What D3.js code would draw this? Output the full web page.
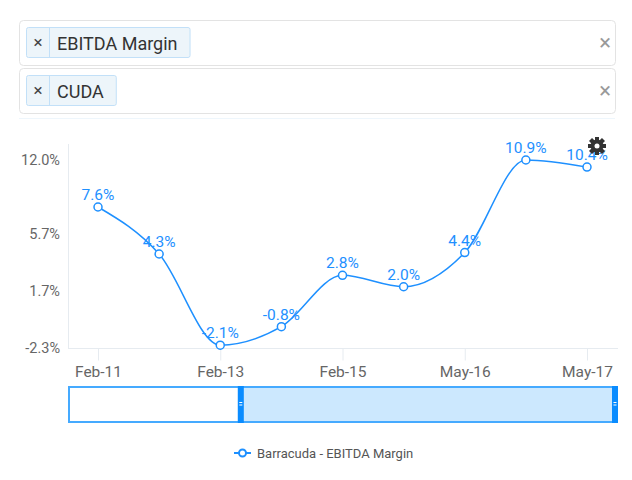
<!DOCTYPE html>
<html>
<head>
<meta charset="utf-8">
<script src="https://cdn.jsdelivr.net/npm/d3@7"></script>
<style>
  body { margin: 0; background: #fff; font-family: Roboto, "Open Sans", sans-serif; }
  svg { display: block; }
</style>
</head>
<body>
<div id="chart"></div>
<script>
// chart data
const periods = ["Feb-11", "Feb-12", "Feb-13", "Feb-14", "Feb-15", "Feb-16", "May-16", "Feb-17", "May-17"]
const margins = [7.6, 4.3, -2.1, -0.8, 2.8, 2.0, 4.4, 10.9, 10.4]
const yTickValues = [-2.3, 1.7, 5.7, 10.9]
const yTickLabels = ["-2.3%", "1.7%", "5.7%", "12.0%"]
const shownPeriods = ["Feb-11", "Feb-13", "Feb-15", "May-16", "May-17"]
const filters = ["EBITDA Margin", "CUDA"]
const seriesName = "Barracuda - EBITDA Margin"

const blue = "#1e90ff"
const width = 632, height = 480

const svg = d3.select("#chart").append("svg")
    .attr("width", width)
    .attr("height", height)

drawFilters()
drawChart()
drawNavigator()
drawLegend()

function drawFilters() {
    filters.forEach((name, i) => {
        const top = 20 + i * 48
        const g = svg.append("g").attr("transform", "translate(0," + top + ")")
        g.append("rect")
            .attr("x", 19.5).attr("y", 0.5)
            .attr("width", 596).attr("height", 45)
            .attr("rx", 4)
            .attr("fill", "#fff")
            .attr("stroke", "#e3e3e3")
        const label = g.append("text")
            .attr("x", 57).attr("y", 30)
            .attr("font-size", 18)
            .attr("fill", "#333")
            .text(name)
        const tw = label.node().getComputedTextLength()
        g.insert("rect", "text")
            .attr("x", 26.5).attr("y", 7.5)
            .attr("width", tw + 43).attr("height", 30)
            .attr("rx", 2)
            .attr("fill", "#edf5fa")
            .attr("stroke", "#c2e0f8")
        g.append("line")
            .attr("x1", 49.5).attr("x2", 49.5)
            .attr("y1", 8).attr("y2", 37)
            .attr("stroke", "#c2e0f8")
        g.append("text")
            .attr("x", 38).attr("y", 28)
            .attr("text-anchor", "middle")
            .attr("font-size", 17)
            .attr("fill", "#444")
            .text("×")
        g.append("text")
            .attr("x", 605).attr("y", 30)
            .attr("text-anchor", "middle")
            .attr("font-size", 22)
            .attr("fill", "#999")
            .text("×")
    })
    svg.append("line")
        .attr("x1", 19).attr("x2", 615)
        .attr("y1", 118.5).attr("y2", 118.5)
        .attr("stroke", "#eef6fc")
}

function drawChart() {
    const x = d3.scalePoint()
        .domain(periods)
        .range([98, 587])
    const y = d3.scaleLinear()
        .domain([-2.3, 10.9])
        .range([348, 160])

    // axis lines
    svg.append("line")
        .attr("x1", 68.5).attr("x2", 68.5)
        .attr("y1", 144).attr("y2", 348)
        .attr("stroke", "#e6ebf0")

    const xAxis = d3.axisBottom(x)
        .tickValues(shownPeriods)
        .tickSize(12)
        .tickPadding(5)
    const gx = svg.append("g")
        .attr("transform", "translate(0,348.5)")
        .call(xAxis)
    gx.select(".domain").remove()
    gx.append("line")
        .attr("x1", 68).attr("x2", 618)
        .attr("stroke", "#e6ebf0")
    gx.selectAll(".tick line").attr("stroke", "#e6ebf0")
    gx.selectAll(".tick text")
        .attr("font-family", "Roboto, sans-serif")
        .attr("font-size", 15.5)
        .attr("fill", "#666")

    const yAxis = d3.axisLeft(y)
        .tickValues(yTickValues)
        .tickSize(0)
        .tickPadding(8)
        .tickFormat((d, i) => yTickLabels[i])
    const gy = svg.append("g")
        .attr("transform", "translate(68,0)")
        .call(yAxis)
    gy.select(".domain").remove()
    gy.selectAll(".tick text")
        .attr("font-family", "Roboto, sans-serif")
        .attr("font-size", 14.5)
        .attr("fill", "#666")

    const data = periods.map((p, i) => ({period: p, value: margins[i]}))

    const line = d3.line()
        .x(d => x(d.period))
        .y(d => y(d.value))
        .curve(d3.curveMonotoneX)

    svg.append("path")
        .datum(data)
        .attr("d", line)
        .attr("fill", "none")
        .attr("stroke", blue)
        .attr("stroke-width", 1.5)

    svg.append("g")
        .selectAll("circle")
        .data(data)
        .enter()
        .append("circle")
        .attr("cx", d => x(d.period))
        .attr("cy", d => y(d.value))
        .attr("r", 4)
        .attr("fill", "#fff")
        .attr("stroke", blue)
        .attr("stroke-width", 1.5)

    svg.append("g")
        .selectAll("text")
        .data(data)
        .enter()
        .append("text")
        .attr("x", d => x(d.period))
        .attr("y", d => y(d.value) - 7)
        .attr("text-anchor", "middle")
        .attr("font-size", 15.5)
        .attr("fill", blue)
        .text(d => d.value.toFixed(1) + "%")

    drawGear(597, 146)
}

function drawGear(cx, cy) {
    const g = svg.append("g").attr("transform", "translate(" + cx + "," + cy + ")")
    for (let i = 0; i < 8; i++) {
        g.append("rect")
            .attr("x", -2).attr("y", -9)
            .attr("width", 4).attr("height", 18)
            .attr("fill", "#333")
            .attr("transform", "rotate(" + (i * 45) + ")")
    }
    g.append("circle").attr("r", 6.5).attr("fill", "#333")
    g.append("circle").attr("r", 2.5).attr("fill", "#fff")
}

function drawNavigator() {
    const nx = d3.scaleLinear()
        .domain([0, periods.length - 1])
        .range([68, 618])
    const selStart = nx(2.47), selEnd = nx(8)
    const g = svg.append("g")
    g.append("rect")
        .attr("x", 69).attr("y", 387)
        .attr("width", 548).attr("height", 35)
        .attr("fill", "#fff")
        .attr("stroke", "#45aaff")
        .attr("stroke-width", 2)
    g.append("rect")
        .attr("x", selStart).attr("y", 388)
        .attr("width", selEnd - selStart).attr("height", 33)
        .attr("fill", "#cce8fe")
    ;[selStart, selEnd - 6].forEach(hx => {
        g.append("rect")
            .attr("x", hx).attr("y", 386)
            .attr("width", 6).attr("height", 37)
            .attr("fill", "#0a8cff")
        g.append("rect")
            .attr("x", hx + 1.5).attr("y", 402)
            .attr("width", 3).attr("height", 1)
            .attr("fill", "#fff")
        g.append("rect")
            .attr("x", hx + 1.5).attr("y", 404.5)
            .attr("width", 3).attr("height", 1)
            .attr("fill", "#fff")
    })
}

function drawLegend() {
    const g = svg.append("g").attr("transform", "translate(0,453)")
    g.append("line")
        .attr("x1", 234).attr("x2", 251)
        .attr("stroke", blue)
        .attr("stroke-width", 2)
    g.append("circle")
        .attr("cx", 242.5).attr("r", 3.5)
        .attr("fill", "#fff")
        .attr("stroke", blue)
        .attr("stroke-width", 2)
    g.append("text")
        .attr("x", 257).attr("y", 4.5)
        .attr("font-size", 13)
        .attr("fill", "#555")
        .text(seriesName)
}
</script>
</body>
</html>
